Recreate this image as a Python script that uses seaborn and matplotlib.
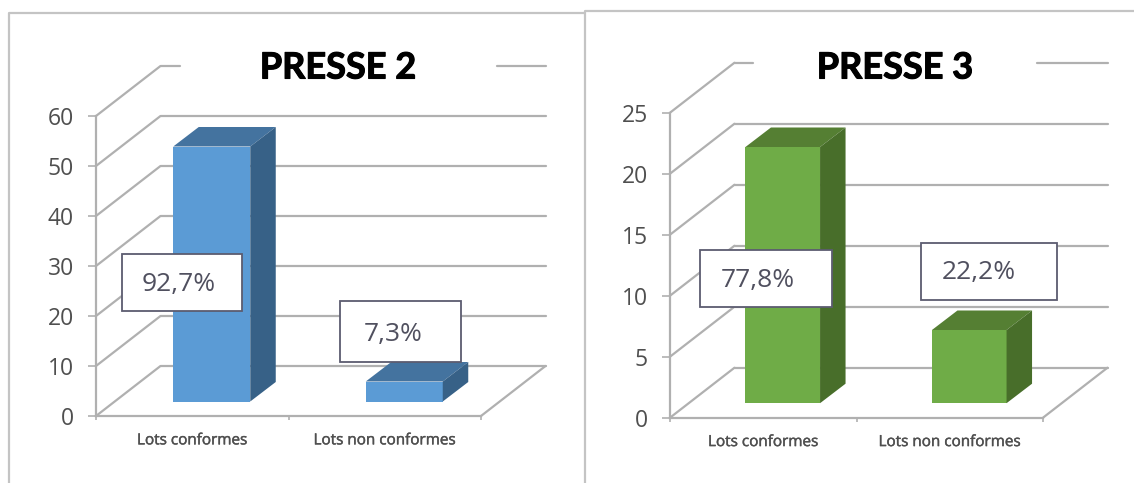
import matplotlib.pyplot as plt
import matplotlib.patheffects as pe
from matplotlib.lines import Line2D
from matplotlib.patches import Polygon, Rectangle
import seaborn as sns

categories = ['Lots conformes', 'Lots non conformes']
presse2_values = [51, 4]
presse3_values = [21, 6]
presse2_ticks = [0, 10, 20, 30, 40, 50, 60]
presse3_ticks = [0, 5, 10, 15, 20, 25]
presse2_pct = ['92,7%', '7,3%']
presse3_pct = ['77,8%', '22,2%']

W, H = 1134, 483
GRID = '#b0b0b0'
TXT = '#4f4f4f'
LABEL = '#50505f'
EDGE = '#5c5c70'

sns.set_theme(style='white')
plt.rcParams['font.family'] = ['Open Sans', 'DejaVu Sans']

fig = plt.figure(figsize=(W / 100, H / 100), dpi=100)


def fx(px):
    return px / W


def fy(py):
    return 1 - py / H


def draw_panel(box, values, ticks, title, title_x, gap, colors, labels, label_boxes):
    left, top, right, bottom = box
    ax = fig.add_axes([fx(left), fy(bottom), fx(right - left), fy(top) - fy(bottom)])
    ax.patch.set_alpha(0)
    sns.barplot(x=categories, y=values, color=colors[0], saturation=1, width=0.4, ax=ax, zorder=3)
    ax.set_xlim(-0.5, 1.5)
    ax.set_ylim(ticks[0], ticks[-1])

    # pixel sizes turned into data units
    px_x = 2 / (right - left)
    px_y = ticks[-1] / (bottom - top)
    wall_dx, wall_dy = 64.5 * px_x, 50 * px_y
    bar_dx, bar_dy = 19.5 * px_x, 14.5 * px_y
    side_dx, side_dy = 25.5 * px_x, 19.5 * px_y

    # back wall, floor
    for t in ticks:
        ax.plot([-0.5, -0.5 + wall_dx], [t, t + wall_dy], color=GRID, lw=1.6, clip_on=False, zorder=1)
        if t == ticks[-1]:
            ax.plot([-0.5 + wall_dx, -0.5 + (gap[0] - left) * px_x], [t + wall_dy] * 2, color=GRID, lw=1.6, clip_on=False, zorder=1)
            ax.plot([-0.5 + (gap[1] - left) * px_x, 1.5 + wall_dx], [t + wall_dy] * 2, color=GRID, lw=1.6, clip_on=False, zorder=1)
        else:
            ax.plot([-0.5 + wall_dx, 1.5 + wall_dx], [t + wall_dy] * 2, color=GRID, lw=1.6, clip_on=False, zorder=1)
    ax.plot([1.5, 1.5 + wall_dx], [0, wall_dy], color=GRID, lw=1.6, clip_on=False, zorder=1)

    # 3d faces of the bars
    for bar in ax.patches[:len(values)]:
        bar.set_x(bar.get_x() + bar_dx)
        bar.set_y(bar_dy)
        bar.set_clip_on(False)
        bar.set_linewidth(0)
        x0, x1 = bar.get_x(), bar.get_x() + bar.get_width()
        y0, y1 = bar_dy, bar_dy + bar.get_height()
        ax.add_patch(Polygon([(x0, y1), (x1, y1), (x1 + side_dx, y1 + side_dy), (x0 + side_dx, y1 + side_dy)],
                             color=colors[1], lw=0, clip_on=False, zorder=3))
        ax.add_patch(Polygon([(x1, y0), (x1 + side_dx, y0 + side_dy), (x1 + side_dx, y1 + side_dy), (x1, y1)],
                             color=colors[2], lw=0, clip_on=False, zorder=3))

    sns.despine(ax=ax, top=True, right=True)
    for side in ['left', 'bottom']:
        ax.spines[side].set_color(GRID)
        ax.spines[side].set_linewidth(1.6)
    ax.set_yticks(ticks)
    ax.set_xticks([-0.5, 0.5, 1.5], labels=[])
    ax.set_xticks([0, 1], labels=categories, minor=True)
    ax.tick_params(axis='y', left=True, length=6, width=1.2, color=GRID, labelsize=16.5, labelcolor=TXT, pad=10)
    ax.tick_params(axis='x', which='major', bottom=True, length=3, width=1.2, color=GRID)
    ax.tick_params(axis='x', which='minor', bottom=False, length=0, labelsize=11, labelcolor=TXT, pad=12.5)
    for lab in ax.get_xticklabels(minor=True):
        lab.set_path_effects([pe.withStroke(linewidth=0.3, foreground=TXT)])

    fig.text(fx(title_x), fy(68), title, fontsize=26, fontweight='bold', color='black',
             family=['Lato', 'DejaVu Sans'], ha='center', va='center', zorder=6,
             path_effects=[pe.withStroke(linewidth=0.8, foreground='black')])

    # percentage boxes
    for lab, (x0, y0, x1, y1, tx, ty) in zip(labels, label_boxes):
        fig.add_artist(Rectangle((fx(x0), fy(y1)), fx(x1 - x0), fy(y0) - fy(y1), transform=fig.transFigure,
                                 facecolor='white', edgecolor=EDGE, lw=1.3, zorder=5))
        fig.text(fx(tx), fy(ty), lab, fontsize=19, color=LABEL, ha='center', va='center', zorder=6)
    return ax


draw_panel((96, 116, 481, 416), presse2_values, presse2_ticks, 'PRESSE 2', 338, (180, 497),
           ('#5b9bd5', '#44739f', '#376187'), presse2_pct,
           [(122, 254, 242, 311, 179, 284), (340, 301, 461, 362, 393, 334)])
draw_panel((670, 112.7, 1043, 417.7), presse3_values, presse3_ticks, 'PRESSE 3', 895, (752.5, 1037),
           ('#6fac47', '#557f33', '#486e2a'), presse3_pct,
           [(700, 250, 832, 307, 758, 280), (921, 243, 1057, 300, 979, 273)])

# panel frames
for xs, ys in [([8.5, 8.5, 584], [483, 13, 13]), ([584.5, 584.5, 1134], [483, 11, 11])]:
    fig.add_artist(Line2D([fx(x) for x in xs], [fy(y) for y in ys], color='#c4c4c4', lw=1.6, transform=fig.transFigure))

fig.savefig('out.png', dpi=100)
